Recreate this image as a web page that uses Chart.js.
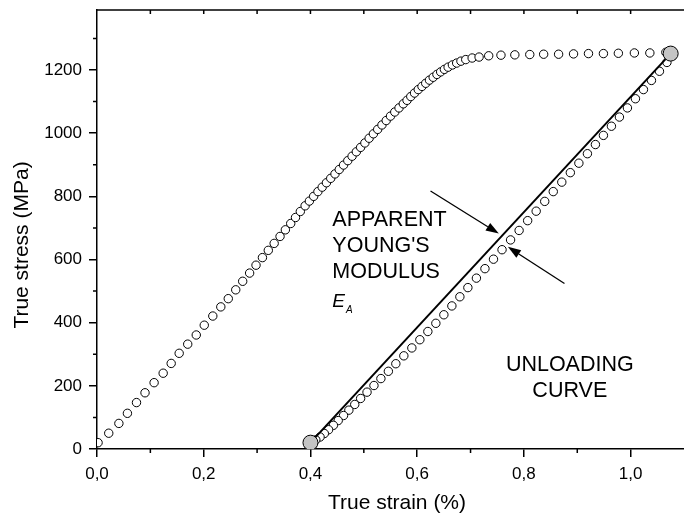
<!DOCTYPE html>
<html>
<head>
<meta charset="utf-8">
<script src="https://cdn.jsdelivr.net/npm/chart.js@4"></script>
<style>
  html, body { margin: 0; padding: 0; background: #fff; }
  #wrap { width: 684px; height: 516px; position: relative; }
</style>
</head>
<body>
<div id="wrap"><canvas id="c" width="684" height="516"></canvas></div>
<script>
// ---- data ----
const loadStrain = [0.002,0.022,0.041,0.057,0.074,0.090,0.107,0.124,0.139,0.154,0.170,0.186,0.201,0.217,0.232,0.246,
  0.260,0.273,0.286,0.298,0.310,0.321,0.332,0.343,0.353,0.363,0.372,0.381,0.390,
  0.398,0.406,0.414,0.422,0.430,0.438,0.446,0.454,0.462,0.470,0.478,0.486,0.494,0.502,0.510,
  0.518,0.526,0.534,0.542,0.550,0.558,0.566,0.574,0.581,0.588,0.595,0.602,0.609,0.616,0.623,0.630,0.637,0.644,0.651,0.658,0.666,0.674,0.682,0.691,
  0.703,0.716,0.734,0.757,0.783,0.811,0.837,0.865,0.893,0.921,0.949,0.977,1.007,1.036,1.066];
const loadStress = [20,50,81,113,147,178,210,240,271,303,332,361,392,421,450,476,
  504,531,557,582,606,629,651,673,694,714,733,752,770,
  785,800,815,829,843,857,871,885,899,913,927,941,955,969,984,
  998,1012,1026,1040,1054,1067,1080,1093,1104,1116,1127,1138,1148,1158,1168,1177,1186,1194,1202,1209,1216,1222,1228,1233,
  1238,1241,1245,1247,1248,1249,1250,1250,1251,1252,1252,1253,1254,1254,1256];

const unloadStrain = [1.068,1.054,1.039,1.024,1.009,0.994,0.979,0.964,0.949,0.934,0.919,0.903,0.887,0.871,0.855,0.839,
  0.823,0.807,0.791,0.775,0.759,0.743,0.727,0.711,0.695,0.680,0.665,0.650,0.635,0.620,0.605,0.590,0.575,0.560,
  0.546,0.532,0.519,0.506,0.494,0.483,0.472,0.462,0.452,0.443,0.434,0.426,0.418,0.410];
const unloadStress = [1224,1196,1167,1138,1109,1080,1051,1022,993,964,935,905,875,845,815,784,
  753,723,692,662,631,601,571,541,511,482,453,425,398,372,346,320,295,270,
  246,223,201,180,160,141,123,106,90,75,61,49,38,29];

const endStrain = [0.400, 1.075];   // grey end points & apparent modulus line
const endStress = [20, 1252];

const xLabelTicks = [0, 0.2, 0.4, 0.6, 0.8, 1.0];
const yLabelTicks = [0, 200, 400, 600, 800, 1000, 1200];
const xMinorTicks = [0.1, 0.3, 0.5, 0.7, 0.9];
const xTopTicks = [0.1, 0.2, 0.3, 0.4, 0.5, 0.6, 0.7, 0.8, 0.9, 1.0];
const yMinorTicks = [100, 300, 500, 700, 900, 1100, 1300];

const FONT = '"Liberation Sans", Arial, sans-serif';

function pts(xs, ys) { return xs.map((v, i) => ({ x: v, y: ys[i] })); }

const decor = {
  id: 'decor',
  afterDraw(chart) {
    const { ctx, chartArea: a, scales: { x, y } } = chart;
    ctx.save();
    ctx.strokeStyle = '#000';
    ctx.fillStyle = '#000';
    ctx.lineWidth = 1.5;
    // top border
    ctx.beginPath();
    ctx.moveTo(a.left, a.top); ctx.lineTo(a.right, a.top);
    ctx.stroke();
    // top ticks (inward)
    ctx.beginPath();
    xTopTicks.forEach(v => { const px = x.getPixelForValue(v); ctx.moveTo(px, a.top); ctx.lineTo(px, a.top + 4); });
    // bottom minor ticks
    xMinorTicks.forEach(v => { const px = x.getPixelForValue(v); ctx.moveTo(px, a.bottom); ctx.lineTo(px, a.bottom + 4); });
    // left minor ticks
    yMinorTicks.forEach(v => { const py = y.getPixelForValue(v); ctx.moveTo(a.left, py); ctx.lineTo(a.left - 4, py); });
    ctx.stroke();

    // axis titles
    ctx.font = '21px ' + FONT;
    ctx.textAlign = 'center';
    ctx.textBaseline = 'alphabetic';
    ctx.fillText('True strain (%)', 397, 509);
    ctx.save();
    ctx.translate(28, 245);
    ctx.rotate(-Math.PI / 2);
    ctx.fillText('True stress (MPa)', 0, 0);
    ctx.restore();

    // annotation text
    ctx.textAlign = 'left';
    ctx.font = '21.5px ' + FONT;
    const tx = x.getPixelForValue(0.441);
    ctx.fillText('APPARENT', tx, y.getPixelForValue(705));
    ctx.fillText("YOUNG'S", tx, y.getPixelForValue(624));
    ctx.fillText('MODULUS', tx, y.getPixelForValue(542));
    ctx.font = 'italic 19px ' + FONT;
    ctx.fillText('E', tx, y.getPixelForValue(451));
    const ew = ctx.measureText('E').width;
    ctx.font = 'italic 10px ' + FONT;
    ctx.fillText('A', tx + ew + 1, y.getPixelForValue(430));

    ctx.font = '21.5px ' + FONT;
    ctx.textAlign = 'center';
    ctx.textBaseline = 'middle';
    const ux = x.getPixelForValue(0.886);
    ctx.fillText('UNLOADING', ux, y.getPixelForValue(266));
    ctx.fillText('CURVE', ux, y.getPixelForValue(183));

    // arrows
    function arrow(x0, y0, x1, y1) {
      const p0 = [x.getPixelForValue(x0), y.getPixelForValue(y0)];
      const p1 = [x.getPixelForValue(x1), y.getPixelForValue(y1)];
      const ang = Math.atan2(p1[1] - p0[1], p1[0] - p0[0]);
      const L = 13, W = 4.5;
      const bx = p1[0] - L * Math.cos(ang), by = p1[1] - L * Math.sin(ang);
      ctx.lineWidth = 1.3;
      ctx.beginPath();
      ctx.moveTo(p0[0], p0[1]); ctx.lineTo(bx, by);
      ctx.stroke();
      ctx.beginPath();
      ctx.moveTo(p1[0], p1[1]);
      ctx.lineTo(bx + W * Math.sin(ang), by - W * Math.cos(ang));
      ctx.lineTo(bx - W * Math.sin(ang), by + W * Math.cos(ang));
      ctx.closePath();
      ctx.fill();
    }
    arrow(0.625, 817, 0.753, 682);
    arrow(0.876, 524, 0.770, 640);
    ctx.restore();
  }
};

new Chart(document.getElementById('c'), {
  type: 'scatter',
  data: {
    datasets: [
      { label: 'ends', data: pts(endStrain, endStress), pointRadius: 7.5, pointBackgroundColor: '#c4c4c4',
        pointBorderColor: '#000', pointBorderWidth: 1, showLine: false },
      { label: 'modulus', data: pts(endStrain, endStress), showLine: true, borderColor: '#000', borderWidth: 2,
        pointRadius: 0 },
      { label: 'unloading', data: pts(unloadStrain, unloadStress), pointRadius: 4.2, pointBackgroundColor: 'rgba(255,255,255,1)',
        pointBorderColor: '#000', pointBorderWidth: 1 },
      { label: 'loading', data: pts(loadStrain, loadStress), pointRadius: 4.2, pointBackgroundColor: 'rgba(255,255,255,1)',
        pointBorderColor: '#000', pointBorderWidth: 1 }
    ]
  },
  options: {
    responsive: false,
    animation: false,
    events: [],
    layout: { autoPadding: false, padding: { top: 10, right: 0, left: 0, bottom: 0 } },
    plugins: { legend: { display: false }, tooltip: { enabled: false } },
    scales: {
      x: {
        type: 'linear', min: 0, max: 1.1,
        afterFit(s) { s.height = 67; s.paddingLeft = 0; s.paddingRight = 0; },
        afterBuildTicks(s) { s.ticks = xLabelTicks.map(v => ({ value: v })); },
        ticks: { callback: v => v.toFixed(1).replace('.', ','), font: { size: 17, family: FONT }, color: '#000', padding: 7, maxRotation: 0 },
        grid: { drawOnChartArea: false, drawTicks: true, tickLength: 8, color: '#000', lineWidth: 1.5 },
        border: { display: true, color: '#000', width: 1.5 }
      },
      y: {
        type: 'linear', min: 0, max: 1390,
        afterFit(s) { s.width = 97; s.paddingTop = 0; s.paddingBottom = 0; },
        afterBuildTicks(s) { s.ticks = yLabelTicks.map(v => ({ value: v })); },
        ticks: { callback: v => String(v), font: { size: 17, family: FONT }, color: '#000', padding: 7 },
        grid: { drawOnChartArea: false, drawTicks: true, tickLength: 8, color: '#000', lineWidth: 1.5 },
        border: { display: true, color: '#000', width: 1.5 }
      }
    }
  },
  plugins: [decor]
});
</script>
</body>
</html>
